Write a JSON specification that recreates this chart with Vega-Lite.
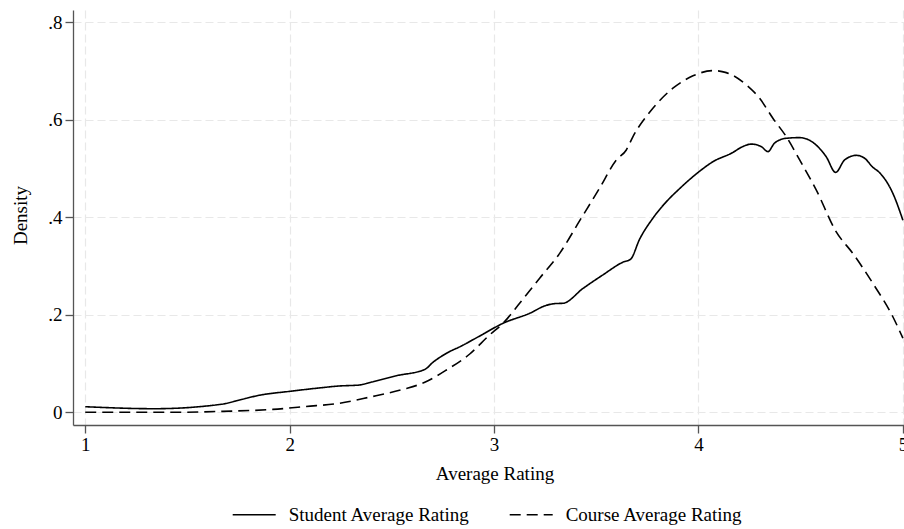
{
  "$schema": "https://vega.github.io/schema/vega-lite/v6.json",
  "autosize": {"type": "none"},
  "padding": {"left": 73, "top": 10, "right": 0, "bottom": 104},
  "width": 831,
  "height": 415,
  "background": "white",
  "config": {
    "view": {"stroke": null},
    "font": "Liberation Serif",
    "axis": {
      "labelFont": "Liberation Serif",
      "titleFont": "Liberation Serif",
      "labelFontSize": 19,
      "titleFontSize": 19,
      "labelColor": "black",
      "titleColor": "black",
      "titleFontWeight": "normal",
      "domainColor": "#555555",
      "domainWidth": 1.3,
      "tickColor": "#555555",
      "tickWidth": 1.3,
      "tickSize": 8,
      "gridColor": "#e8e8e8",
      "gridWidth": 1.2,
      "gridDash": [8, 4]
    },
    "legend": {
      "labelFont": "Liberation Serif",
      "labelFontSize": 19,
      "labelColor": "black",
      "labelLimit": 0
    }
  },
  "data": {
    "values": [
      {"series": "Student Average Rating", "rating": 1.0, "density": 0.0115},
      {"series": "Student Average Rating", "rating": 1.338, "density": 0.0074},
      {"series": "Student Average Rating", "rating": 1.664, "density": 0.0164},
      {"series": "Student Average Rating", "rating": 1.77, "density": 0.027},
      {"series": "Student Average Rating", "rating": 1.852, "density": 0.035},
      {"series": "Student Average Rating", "rating": 2.0, "density": 0.043},
      {"series": "Student Average Rating", "rating": 2.145, "density": 0.05},
      {"series": "Student Average Rating", "rating": 2.243, "density": 0.054},
      {"series": "Student Average Rating", "rating": 2.341, "density": 0.056},
      {"series": "Student Average Rating", "rating": 2.4, "density": 0.062},
      {"series": "Student Average Rating", "rating": 2.522, "density": 0.075},
      {"series": "Student Average Rating", "rating": 2.661, "density": 0.088},
      {"series": "Student Average Rating", "rating": 2.701, "density": 0.1026},
      {"series": "Student Average Rating", "rating": 2.767, "density": 0.121},
      {"series": "Student Average Rating", "rating": 2.84, "density": 0.136},
      {"series": "Student Average Rating", "rating": 2.93, "density": 0.1565},
      {"series": "Student Average Rating", "rating": 3.044, "density": 0.1826},
      {"series": "Student Average Rating", "rating": 3.174, "density": 0.203},
      {"series": "Student Average Rating", "rating": 3.256, "density": 0.2195},
      {"series": "Student Average Rating", "rating": 3.3, "density": 0.223},
      {"series": "Student Average Rating", "rating": 3.337, "density": 0.2236},
      {"series": "Student Average Rating", "rating": 3.435, "density": 0.254},
      {"series": "Student Average Rating", "rating": 3.533, "density": 0.282},
      {"series": "Student Average Rating", "rating": 3.631, "density": 0.308},
      {"series": "Student Average Rating", "rating": 3.668, "density": 0.314},
      {"series": "Student Average Rating", "rating": 3.712, "density": 0.355},
      {"series": "Student Average Rating", "rating": 3.777, "density": 0.398},
      {"series": "Student Average Rating", "rating": 3.859, "density": 0.439},
      {"series": "Student Average Rating", "rating": 3.892, "density": 0.4525},
      {"series": "Student Average Rating", "rating": 3.997, "density": 0.4915},
      {"series": "Student Average Rating", "rating": 4.071, "density": 0.514},
      {"series": "Student Average Rating", "rating": 4.169, "density": 0.533},
      {"series": "Student Average Rating", "rating": 4.21, "density": 0.5436},
      {"series": "Student Average Rating", "rating": 4.258, "density": 0.55},
      {"series": "Student Average Rating", "rating": 4.307, "density": 0.545},
      {"series": "Student Average Rating", "rating": 4.34, "density": 0.5346},
      {"series": "Student Average Rating", "rating": 4.372, "density": 0.552},
      {"series": "Student Average Rating", "rating": 4.43, "density": 0.562},
      {"series": "Student Average Rating", "rating": 4.495, "density": 0.5633},
      {"series": "Student Average Rating", "rating": 4.576, "density": 0.548},
      {"series": "Student Average Rating", "rating": 4.625, "density": 0.524},
      {"series": "Student Average Rating", "rating": 4.671, "density": 0.492},
      {"series": "Student Average Rating", "rating": 4.715, "density": 0.5175},
      {"series": "Student Average Rating", "rating": 4.772, "density": 0.527},
      {"series": "Student Average Rating", "rating": 4.813, "density": 0.521},
      {"series": "Student Average Rating", "rating": 4.853, "density": 0.5026},
      {"series": "Student Average Rating", "rating": 4.886, "density": 0.4915},
      {"series": "Student Average Rating", "rating": 4.951, "density": 0.449},
      {"series": "Student Average Rating", "rating": 5.0, "density": 0.394},
      {"series": "Course Average Rating", "rating": 1.0, "density": 0.0},
      {"series": "Course Average Rating", "rating": 1.43, "density": 0.0},
      {"series": "Course Average Rating", "rating": 1.673, "density": 0.002},
      {"series": "Course Average Rating", "rating": 1.917, "density": 0.006},
      {"series": "Course Average Rating", "rating": 2.08, "density": 0.012},
      {"series": "Course Average Rating", "rating": 2.243, "density": 0.0185},
      {"series": "Course Average Rating", "rating": 2.39, "density": 0.031},
      {"series": "Course Average Rating", "rating": 2.554, "density": 0.047},
      {"series": "Course Average Rating", "rating": 2.661, "density": 0.0615},
      {"series": "Course Average Rating", "rating": 2.767, "density": 0.0868},
      {"series": "Course Average Rating", "rating": 2.881, "density": 0.1196},
      {"series": "Course Average Rating", "rating": 2.978, "density": 0.1586},
      {"series": "Course Average Rating", "rating": 3.044, "density": 0.1826},
      {"series": "Course Average Rating", "rating": 3.125, "density": 0.2236},
      {"series": "Course Average Rating", "rating": 3.223, "density": 0.275},
      {"series": "Course Average Rating", "rating": 3.321, "density": 0.326},
      {"series": "Course Average Rating", "rating": 3.419, "density": 0.393},
      {"series": "Course Average Rating", "rating": 3.516, "density": 0.4595},
      {"series": "Course Average Rating", "rating": 3.598, "density": 0.5175},
      {"series": "Course Average Rating", "rating": 3.647, "density": 0.538},
      {"series": "Course Average Rating", "rating": 3.679, "density": 0.565},
      {"series": "Course Average Rating", "rating": 3.777, "density": 0.6236},
      {"series": "Course Average Rating", "rating": 3.875, "density": 0.6646},
      {"series": "Course Average Rating", "rating": 3.973, "density": 0.69},
      {"series": "Course Average Rating", "rating": 4.071, "density": 0.7007},
      {"series": "Course Average Rating", "rating": 4.136, "density": 0.6966},
      {"series": "Course Average Rating", "rating": 4.234, "density": 0.6714},
      {"series": "Course Average Rating", "rating": 4.299, "density": 0.644},
      {"series": "Course Average Rating", "rating": 4.364, "density": 0.603},
      {"series": "Course Average Rating", "rating": 4.43, "density": 0.565},
      {"series": "Course Average Rating", "rating": 4.495, "density": 0.5175},
      {"series": "Course Average Rating", "rating": 4.576, "density": 0.456},
      {"series": "Course Average Rating", "rating": 4.674, "density": 0.37},
      {"series": "Course Average Rating", "rating": 4.755, "density": 0.326},
      {"series": "Course Average Rating", "rating": 4.853, "density": 0.2646},
      {"series": "Course Average Rating", "rating": 4.951, "density": 0.196},
      {"series": "Course Average Rating", "rating": 5.0, "density": 0.152}
    ]
  },
  "mark": {"type": "line", "color": "black", "strokeWidth": 1.6, "interpolate": "monotone"},
  "encoding": {
    "x": {
      "field": "rating",
      "type": "quantitative",
      "scale": {"domain": [0.94, 5.0055], "nice": false, "zero": false},
      "axis": {
        "values": [1, 2, 3, 4, 5],
        "format": "d",
        "title": "Average Rating",
        "labelPadding": 2,
        "labelFlush": false,
        "titleX": 421.5,
        "titleY": 54.5,
        "titleAlign": "center",
        "titleBaseline": "alphabetic"
      }
    },
    "y": {
      "field": "density",
      "type": "quantitative",
      "scale": {"domain": [-0.026, 0.825], "nice": false, "zero": false},
      "axis": {
        "values": [0, 0.2, 0.4, 0.6, 0.8],
        "labelExpr": "datum.value == 0 ? '0' : substring(format(datum.value, '.1f'), 1)",
        "title": "Density",
        "labelPadding": 3,
        "labelFlush": false,
        "titleAngle": 270,
        "titleX": -46.3,
        "titleY": 205,
        "titleAlign": "center",
        "titleBaseline": "alphabetic"
      }
    },
    "strokeDash": {
      "field": "series",
      "type": "nominal",
      "scale": {
        "domain": ["Student Average Rating", "Course Average Rating"],
        "range": [[1, 0], [11, 6]]
      },
      "legend": {
        "title": null,
        "orient": "none",
        "direction": "horizontal",
        "legendX": 158.7,
        "legendY": 482,
        "padding": 0,
        "symbolType": "stroke",
        "symbolSize": 1849,
        "symbolStrokeWidth": 1.6,
        "symbolStrokeColor": "black",
        "labelOffset": 12,
        "labelLimit": 0,
        "columnPadding": 35
      }
    }
  }
}
